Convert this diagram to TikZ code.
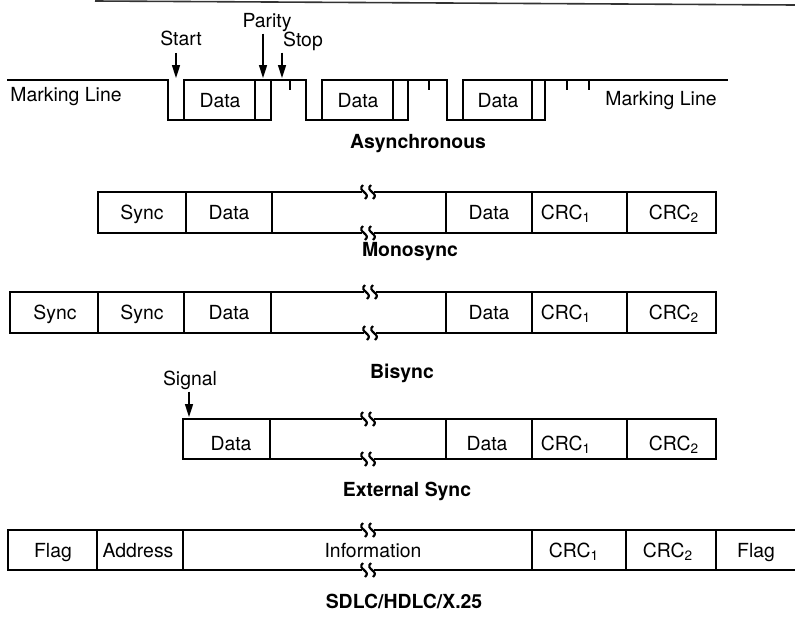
\documentclass[tikz,border=0pt]{standalone}
\usepackage{fontspec}
\setmainfont{TeX Gyre Heros}
\usetikzlibrary{arrows.meta}

% break mark on a frame edge
\newcommand{\squig}[2]{%
  \foreach \dx in {-4,4}{%
    \draw[sq] ({#1+\dx-1},{#2-7}) .. controls ({#1+\dx-8},{#2-1}) and ({#1+\dx+8},{#2+1}) .. ({#1+\dx+1},{#2+7});}}
% frame with break: left, right, top, bottom, break x
\newcommand{\brkframe}[5]{%
  \draw[frm] ({#5-6},#3) -- (#1,#3) -- (#1,#4) -- ({#5-6},#4);
  \draw[frm] ({#5+6},#3) -- (#2,#3) -- (#2,#4) -- ({#5+6},#4);
  \squig{#5}{#3}\squig{#5}{#4}}

\begin{document}
\begin{tikzpicture}[
  x=0.5pt,y=-0.5pt,
  font=\fontsize{9.7}{11}\selectfont,
  lbl/.style={anchor=base,inner sep=1pt},
  ttl/.style={anchor=base,inner sep=1pt,font=\fontsize{9.7}{11}\selectfont\bfseries},
  frm/.style={line width=1.2pt,line join=miter},
  sq/.style={line width=1.1pt},
  div/.style={line width=0.7pt},
  wave/.style={line width=1.2pt,line join=miter},
  arr/.style={-{Triangle[width=4pt,length=6.5pt]},line width=0.8pt}
]
\useasboundingbox (0,0) rectangle (795,616);
\draw[line width=0.8pt,black!80] (95,1) -- (795,5);

% Asynchronous
\draw[wave] (7,80) -- (168,80) -- (168,120) -- (184,120) -- (184,80) -- (306,80) -- (306,120)
  -- (322,120) -- (322,80) -- (447,80) -- (447,120) -- (463,120) -- (463,80) -- (728,80);
\draw[wave] (184,120) -- (271,120) -- (271,80) (322,120) -- (408,120) -- (408,80)
  (463,120) -- (545,120) -- (545,80);
\draw[div] (255,80) -- (255,120) (393,80) -- (393,120) (532,80) -- (532,120);
\foreach \x in {290,429,567,589}
  \draw[div] (\x,80) -- (\x,90);
\node[lbl] (markl) at (66,101) {Marking Line};
\node[lbl] (markr) at (661,105) {Marking Line};
\node[lbl] (adata1) at (220,107) {Data};
\node[lbl] (adata2) at (358,107) {Data};
\node[lbl] (adata3) at (498,107) {Data};
\node[lbl] (start) at (181,45) {Start};
\node[lbl] (parity) at (267,27) {Parity};
\node[lbl] (stop) at (303,46) {Stop};
\coordinate (startpt) at (176,78);
\coordinate (paritypt) at (263,78);
\coordinate (stoppt) at (282,78);
\draw[arr] (start.south -| startpt) ++(0,5) -- (startpt);
\draw[arr] (parity.south -| paritypt) -- (paritypt);
\draw[arr] (stop.south -| stoppt) -- (stoppt);
\node[ttl] (async) at (418,148) {Asynchronous};

% Monosync
\brkframe{98}{716}{192}{233}{368}
\foreach \x in {186,272,446,532,627}
  \draw[div] (\x,192) -- (\x,233);
\node[lbl] (msync) at (142,219) {Sync};
\node[lbl] (mdata1) at (229,219) {Data};
\node[lbl] (mdata2) at (489,219) {Data};
\node[lbl] (mcrc1) at (566,219) {CRC\textsubscript{1}};
\node[lbl] (mcrc2) at (674,219) {CRC\textsubscript{2}};
\node[ttl] (mono) at (410,256) {Monosync};

% Bisync
\brkframe{10}{716}{292}{333}{370}
\foreach \x in {98,184,271,446,532,627}
  \draw[div] (\x,292) -- (\x,333);
\node[lbl] (bsync1) at (55,319) {Sync};
\node[lbl] (bsync2) at (142,319) {Sync};
\node[lbl] (bdata1) at (229,319) {Data};
\node[lbl] (bdata2) at (489,319) {Data};
\node[lbl] (bcrc1) at (566,319) {CRC\textsubscript{1}};
\node[lbl] (bcrc2) at (674,319) {CRC\textsubscript{2}};
\node[ttl] (bi) at (402,378) {Bisync};

% External Sync
\brkframe{183}{716}{419}{459}{368}
\foreach \x in {270,446,532,627}
  \draw[div] (\x,419) -- (\x,459);
\node[lbl] (signal) at (190,385) {Signal};
\coordinate (signalpt) at (189,417);
\draw[arr] (signal.south -| signalpt) -- (signalpt);
\node[lbl] (edata1) at (231,450) {Data};
\node[lbl] (edata2) at (487,450) {Data};
\node[lbl] (ecrc1) at (566,450) {CRC\textsubscript{1}};
\node[lbl] (ecrc2) at (674,450) {CRC\textsubscript{2}};
\node[ttl] (ext) at (407,496) {External Sync};

% SDLC/HDLC/X.25
\draw[frm] (362,530) -- (8,530) -- (8,570) -- (362,570);
\draw[frm] (374,530) -- (795,530) (374,570) -- (795,570);
\squig{368}{530}\squig{368}{570}
\foreach \x in {97,183,532,626,716}
  \draw[div] (\x,530) -- (\x,570);
\node[lbl] (sflag1) at (53,557) {Flag};
\node[lbl] (saddr) at (138,557) {Address};
\node[lbl] (sinfo) at (373,557) {Information};
\node[lbl] (scrc1) at (574,557) {CRC\textsubscript{1}};
\node[lbl] (scrc2) at (668,557) {CRC\textsubscript{2}};
\node[lbl] (sflag2) at (756,557) {Flag};
\node[ttl] (sdlc) at (404,608) {SDLC/HDLC/X.25};
\end{tikzpicture}
\end{document}
